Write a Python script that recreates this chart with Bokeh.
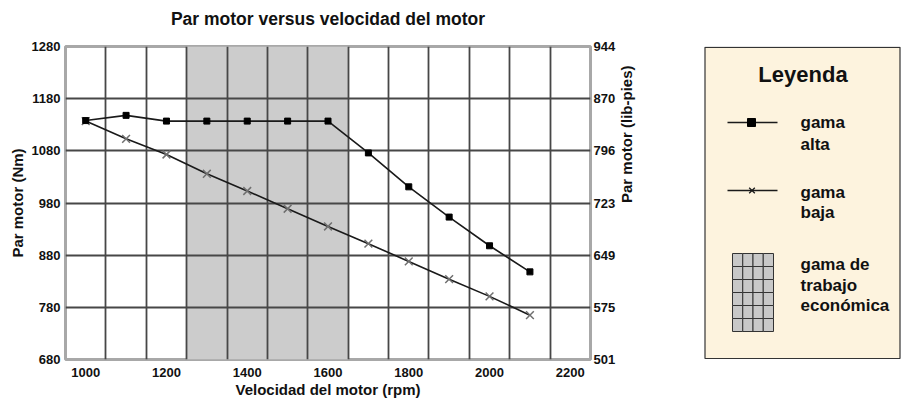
import math
from bokeh.plotting import figure
from bokeh.models import Range1d, FixedTicker, LinearAxis, BoxAnnotation, ColumnDataSource, Title
from bokeh.layouts import row
from bokeh.embed import file_html
from bokeh.resources import INLINE
from bokeh.core.properties import value

# ---- data ----
rpm = [1000, 1100, 1200, 1300, 1400, 1500, 1600, 1700, 1800, 1900, 2000, 2100]
gama_alta = [1138, 1148, 1137, 1137, 1137, 1137, 1137, 1076, 1011, 953, 898, 848]
gama_baja = [1137, 1103, 1073, 1036, 1003, 969, 935, 902, 868, 834, 801, 765]
x_ticks = [1000, 1200, 1400, 1600, 1800, 2000, 2200]
x_grid = [1050, 1150, 1250, 1350, 1450, 1550, 1650, 1750, 1850, 1950, 2050, 2150]
y_ticks_nm = [680, 780, 880, 980, 1080, 1180, 1280]
y_labels_lbft = ["501", "575", "649", "723", "796", "870", "944"]
econ_start, econ_end = 1250, 1650

title_text = "Par motor versus velocidad del motor"
x_label = "Velocidad del motor (rpm)"
y_label = "Par motor (Nm)"
y2_label = "Par motor (lib-pies)"
legend_title = "Leyenda"
legend_items = [["gama", "alta"], ["gama", "baja"], ["gama de", "trabajo", "económica"]]

FONT = "Liberation Sans"
TXT = "#111111"

# frame geometry in page pixels
FL, FR, FT, FB = 65, 590, 46, 359
W1, H = 660, 402
W2 = 903 - W1

p = figure(width=W1, height=H, x_range=Range1d(950, 2250), y_range=Range1d(680, 1280),
           output_backend="svg", toolbar_location=None, title_location=None,
           min_border_left=FL, min_border_right=W1 - FR, min_border_top=FT,
           min_border_bottom=H - FB)

# spacer between frame and title (first "above" item sits next to the frame)
spacer = Title(text=" ", text_font_size="1px", standoff=13)
p.add_layout(spacer, "above")
title = Title(text=title_text, align="center", vertical_align="top", standoff=0,
              text_font=FONT, text_font_size="17.5px", text_font_style="bold", text_color=TXT)
p.add_layout(title, "above")

p.outline_line_color = "#a8a8a8"
p.outline_line_width = 3
p.background_fill_color = "white"
p.border_fill_color = "white"

p.xaxis.ticker = FixedTicker(ticks=x_ticks)
p.yaxis.ticker = FixedTicker(ticks=y_ticks_nm)
p.xgrid.ticker = FixedTicker(ticks=x_grid)
p.ygrid.ticker = FixedTicker(ticks=y_ticks_nm[1:-1])
for g in (p.xgrid, p.ygrid):
    g.grid_line_color = "#474747"
    g.grid_line_width = 1.8
    g.level = "underlay"

econ = BoxAnnotation(left=econ_start, right=econ_end, fill_color="#cccccc", fill_alpha=1.0,
                     line_color=None, level="image")
p.add_layout(econ)

right_axis = LinearAxis(ticker=FixedTicker(ticks=y_ticks_nm),
                        major_label_overrides={t: l for t, l in zip(y_ticks_nm, y_labels_lbft)})
p.add_layout(right_axis, "right")

p.xaxis.axis_label = x_label
p.yaxis.axis_label = y_label
right_axis.axis_label = y2_label

for ax in p.axis:
    ax.axis_line_color = None
    ax.major_tick_line_color = None
    ax.minor_tick_line_color = None
    ax.major_tick_out = 0
    ax.major_tick_in = 0
    ax.minor_tick_out = 0
    ax.minor_tick_in = 0
    ax.major_label_text_font = FONT
    ax.major_label_text_font_size = "13px"
    ax.major_label_text_font_style = "bold"
    ax.major_label_text_color = TXT
    ax.axis_label_text_font = FONT
    ax.axis_label_text_font_size = "15px"
    ax.axis_label_text_font_style = "bold"
    ax.axis_label_text_color = TXT

p.xaxis.major_label_standoff = 8
p.xaxis.axis_label_standoff = 1
p.yaxis.major_label_standoff = 5
p.yaxis.axis_label_standoff = 3
right_axis.major_label_standoff = 3
right_axis.axis_label_standoff = 8
try:
    right_axis.axis_label_orientation = math.pi / 2
except Exception:
    pass

src = ColumnDataSource(dict(rpm=rpm, alta=gama_alta, baja=gama_baja))
p.line("rpm", "baja", source=src, line_color="#1a1a1a", line_width=1.6)
p.scatter("rpm", "baja", source=src, marker="x", size=11, line_color="#707070", line_width=1.5)
p.line("rpm", "alta", source=src, line_color="#1a1a1a", line_width=1.6)
p.scatter("rpm", "alta", source=src, marker="square", size=6, fill_color="black", line_color="black")

# ---- legend panel: a second figure whose ranges are page pixels (y downward) ----
lg = figure(width=W2, height=H, x_range=Range1d(W1, W1 + W2), y_range=Range1d(FB, FT),
            output_backend="svg", toolbar_location=None, title_location=None,
            x_axis_location=None, y_axis_location=None,
            min_border_left=0, min_border_right=0, min_border_top=FT, min_border_bottom=H - FB)
lg.grid.visible = False
lg.outline_line_color = None
lg.background_fill_color = "white"
lg.border_fill_color = "white"

lg.quad(left=[704.5], right=[899.5], top=[46.8], bottom=[358], fill_color="#fdf3de",
        line_color="#333333", line_width=1.2)
lg.text(x=[802.5], y=[73.5], text=[legend_title], text_font=value(FONT), text_font_size="22px",
        text_font_style="bold", text_align="center", text_baseline="alphabetic", text_color=TXT)

lg.line(x=[727, 777], y=[122, 122], line_color="#1a1a1a", line_width=1.3)
lg.scatter(x=[751], y=[122], marker="square", size=8, fill_color="black", line_color="black")
lg.line(x=[727, 777], y=[190, 190], line_color="#1a1a1a", line_width=1.3)
lg.scatter(x=[751.5], y=[190], marker="x", size=8, line_color="#1a1a1a", line_width=1.3)

sw_l, sw_r, sw_t, sw_b = 732, 773, 253, 331
ncol, nrow = 4, 6
cw = (sw_r - sw_l) / ncol
rh = (sw_b - sw_t) / nrow
cl, cr, ct, cb = [], [], [], []
for i in range(ncol):
    for j in range(nrow):
        cl.append(sw_l + i * cw)
        cr.append(sw_l + (i + 1) * cw)
        ct.append(sw_t + j * rh)
        cb.append(sw_t + (j + 1) * rh)
lg.quad(left=cl, right=cr, top=ct, bottom=cb, fill_color="#c8c8c8", line_color="#333333", line_width=1)

baselines = [[121.5, 143.5], [192, 211.5], [263.5, 284.5, 304.5]]
tx, ty, tt = [], [], []
for lines, bls in zip(legend_items, baselines):
    for t, b in zip(lines, bls):
        tx.append(800)
        ty.append(b)
        tt.append(t)
lg.text(x=tx, y=ty, text=tt, text_font=value(FONT), text_font_size="17px", text_font_style="bold",
        text_align="left", text_baseline="alphabetic", text_color=TXT)

layout = row(p, lg)
open("out.html", "w").write(file_html(layout, INLINE))
